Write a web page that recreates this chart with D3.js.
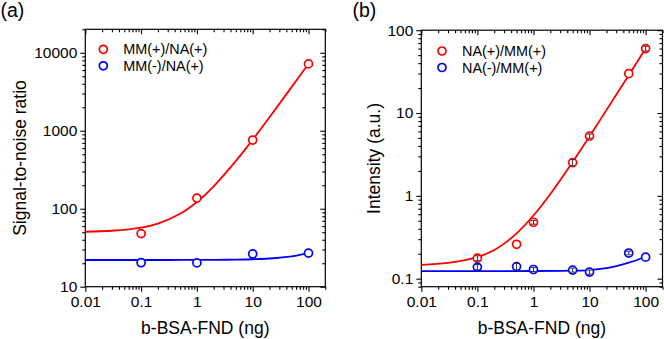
<!DOCTYPE html>
<html>
<head>
<meta charset="utf-8">
<script src="https://cdn.jsdelivr.net/npm/d3@7"></script>
<style>
  body { margin: 0; background: #fff; }
  text { font-family: "Liberation Sans", Arial, sans-serif; fill: #000; }
</style>
</head>
<body>
<svg id="chart"></svg>
<script>
// shared x axis
const xTicks = [0.01, 0.1, 1, 10, 100];
const xTickLabels = ["0.01", "0.1", "1", "10", "100"];

// panel (a)
const yTicksA = [10, 100, 1000, 10000];
const yTickLabelsA = ["10", "100", "1000", "10000"];
const doseA = [0.1, 1, 10, 100];
const mmPosA = [48, 137, 760, 7200];
const mmNegA = [20.3, 20.2, 26.3, 27];
const fitDoseA = [0.01, 0.03, 0.1, 0.2, 0.5, 1, 2, 5, 10, 20, 50, 100];
const mmPosFitA = [50.7, 52.2, 57.2, 64.4, 86, 122, 194, 410, 770, 1490, 3650, 7250];
const mmNegFitA = [22, 22, 22, 22, 22.03, 22.05, 22.1, 22.25, 22.5, 23, 24.5, 27];

// panel (b)
const yTicksB = [0.1, 1, 10, 100];
const yTickLabelsB = ["0.1", "1", "10", "100"];
const doseB = [0.1, 0.5, 1, 5, 10, 50, 100];
const naPosB = [0.177, 0.26, 0.48, 2.52, 5.27, 29.9, 60];
const naPosErrB = [0.012, 0, 0.025, 0.22, 0.3, 0, 4];
const naNegB = [0.138, 0.14, 0.129, 0.127, 0.12, 0.204, 0.182];
const naNegErrB = [0.01, 0.013, 0.007, 0.007, 0.007, 0.01, 0];
const fitDosePosB = [0.01, 0.03, 0.1, 0.2, 0.3, 0.5, 1, 2, 5, 10, 20, 50, 100];
const naPosFitB = [0.147, 0.155, 0.182, 0.222, 0.265, 0.352, 0.579, 1.055, 2.57, 5.24, 10.84, 28.6, 60];
const fitDoseNegB = [0.01, 1, 5, 10, 20, 30, 50, 100];
const naNegFitB = [0.1235, 0.1237, 0.125, 0.127, 0.134, 0.142, 0.156, 0.184];

const RED = "#ff0000";
const BLUE = "#0000ff";

const w = 664;
const h = 339;
const svg = d3.select("#chart").attr("width", w).attr("height", h);

const zip = (a, b, e) => a.map((v, i) => ({ x: v, y: b[i], e: e ? e[i] : 0 }));

function drawPanel(p) {
  const g = svg.append("g");
  const x = d3.scaleLog().domain([0.01, 200]).range([p.left, p.right]);
  const y = d3.scaleLog().domain(p.yDomain).range([p.bottom, p.top]);

  const xMinor = x.ticks().filter((t) => !xTicks.some((m) => Math.abs(m - t) / m < 1e-9));
  const yMinor = y.ticks().filter((t) => !p.yTicks.some((m) => Math.abs(m - t) / m < 1e-9));

  const styleAxis = (sel) => {
    sel.select(".domain").remove();
    sel.selectAll("line").attr("stroke", "#000").attr("stroke-width", 1.1);
    sel.selectAll("text").style("font-size", "15.5px").attr("fill", "#000");
  };

  // bottom
  g.append("g")
    .attr("transform", `translate(0,${p.bottom})`)
    .call(d3.axisBottom(x).tickValues(xTicks).tickSize(5).tickPadding(4)
      .tickFormat((d, i) => xTickLabels[i]))
    .call(styleAxis);
  g.append("g")
    .attr("transform", `translate(0,${p.bottom})`)
    .call(d3.axisBottom(x).tickValues(xMinor).tickSize(3).tickFormat(""))
    .call(styleAxis);
  // top (inward)
  g.append("g")
    .attr("transform", `translate(0,${p.top})`)
    .call(d3.axisTop(x).tickValues(xTicks).tickSize(-5).tickFormat(""))
    .call(styleAxis);
  g.append("g")
    .attr("transform", `translate(0,${p.top})`)
    .call(d3.axisTop(x).tickValues(xMinor).tickSize(-3).tickFormat(""))
    .call(styleAxis);
  // left
  g.append("g")
    .attr("transform", `translate(${p.left},0)`)
    .call(d3.axisLeft(y).tickValues(p.yTicks).tickSize(5).tickPadding(3)
      .tickFormat((d, i) => p.yLabels[i]))
    .call(styleAxis);
  g.append("g")
    .attr("transform", `translate(${p.left},0)`)
    .call(d3.axisLeft(y).tickValues(yMinor).tickSize(3).tickFormat(""))
    .call(styleAxis);
  // right (inward)
  g.append("g")
    .attr("transform", `translate(${p.right},0)`)
    .call(d3.axisRight(y).tickValues(p.yTicks).tickSize(-5).tickFormat(""))
    .call(styleAxis);
  g.append("g")
    .attr("transform", `translate(${p.right},0)`)
    .call(d3.axisRight(y).tickValues(yMinor).tickSize(-3).tickFormat(""))
    .call(styleAxis);

  // frame
  g.append("rect")
    .attr("x", p.left).attr("y", p.top)
    .attr("width", p.right - p.left).attr("height", p.bottom - p.top)
    .attr("fill", "none").attr("stroke", "#000").attr("stroke-width", 1.2);

  const line = d3.line()
    .x((d) => x(d.x))
    .y((d) => y(d.y))
    .curve(d3.curveCatmullRom.alpha(0.5));

  p.series.forEach((s) => {
    g.append("path")
      .datum(s.fit)
      .attr("d", line)
      .attr("fill", "none")
      .attr("stroke", s.color)
      .attr("stroke-width", 1.8);
  });

  p.series.forEach((s) => {
    g.selectAll(null)
      .data(s.points)
      .enter()
      .append("circle")
      .attr("cx", (d) => x(d.x))
      .attr("cy", (d) => y(d.y))
      .attr("r", 4)
      .attr("fill", "#fff")
      .attr("stroke", s.color)
      .attr("stroke-width", 1.7);

    const eb = g.selectAll(null)
      .data(s.points.filter((d) => d.e > 0))
      .enter()
      .append("g")
      .attr("stroke", "#333")
      .attr("stroke-width", 1);
    eb.append("line")
      .attr("x1", (d) => x(d.x)).attr("x2", (d) => x(d.x))
      .attr("y1", (d) => y(d.y + d.e)).attr("y2", (d) => y(d.y - d.e));
    eb.append("line")
      .attr("x1", (d) => x(d.x) - 2.5).attr("x2", (d) => x(d.x) + 2.5)
      .attr("y1", (d) => y(d.y + d.e)).attr("y2", (d) => y(d.y + d.e));
    eb.append("line")
      .attr("x1", (d) => x(d.x) - 2.5).attr("x2", (d) => x(d.x) + 2.5)
      .attr("y1", (d) => y(d.y - d.e)).attr("y2", (d) => y(d.y - d.e));
  });

  // legend
  const lg = g.append("g")
    .attr("transform", `translate(${p.legendX},${p.legendY})`);
  const items = lg.selectAll(".legend-item")
    .data(p.series)
    .enter()
    .append("g")
    .attr("class", "legend-item")
    .attr("transform", (d, i) => `translate(0,${i * 16.5})`);
  items.append("circle")
    .attr("cx", 0).attr("cy", 0).attr("r", 4)
    .attr("fill", "none")
    .attr("stroke", (d) => d.color)
    .attr("stroke-width", 1.7);
  items.append("text")
    .attr("x", 20).attr("y", 5)
    .style("font-size", "14.4px")
    .text((d) => d.name);

  // titles
  g.append("text")
    .attr("x", (p.left + p.right) / 2)
    .attr("y", 334)
    .attr("text-anchor", "middle")
    .style("font-size", "17.5px")
    .text("b-BSA-FND (ng)");
  g.append("text")
    .attr("transform", `translate(${p.yTitleX},${(p.top + p.bottom) / 2}) rotate(-90)`)
    .attr("text-anchor", "middle")
    .style("font-size", "17.5px")
    .text(p.yTitle);
  g.append("text")
    .attr("x", p.letterX)
    .attr("y", 17)
    .style("font-size", "19.5px")
    .text(p.letter);
}

drawPanel({
  left: 85.3, right: 325.3, top: 29.3, bottom: 286.7,
  yDomain: [10, 20000], yTicks: yTicksA, yLabels: yTickLabelsA,
  yTitle: "Signal-to-noise ratio", yTitleX: 26,
  letter: "(a)", letterX: 0.5,
  legendX: 103.3, legendY: 49.3,
  series: [
    { name: "MM(+)/NA(+)", color: RED, points: zip(doseA, mmPosA), fit: zip(fitDoseA, mmPosFitA) },
    { name: "MM(-)/NA(+)", color: BLUE, points: zip(doseA, mmNegA), fit: zip(fitDoseA, mmNegFitA) },
  ],
});

drawPanel({
  left: 421.3, right: 662.5, top: 30.2, bottom: 286.7,
  yDomain: [0.08, 100], yTicks: yTicksB, yLabels: yTickLabelsB,
  yTitle: "Intensity (a.u.)", yTitleX: 380,
  letter: "(b)", letterX: 352.5,
  legendX: 442, legendY: 51,
  series: [
    { name: "NA(+)/MM(+)", color: RED, points: zip(doseB, naPosB, naPosErrB), fit: zip(fitDosePosB, naPosFitB) },
    { name: "NA(-)/MM(+)", color: BLUE, points: zip(doseB, naNegB, naNegErrB), fit: zip(fitDoseNegB, naNegFitB) },
  ],
});
</script>
</body>
</html>
